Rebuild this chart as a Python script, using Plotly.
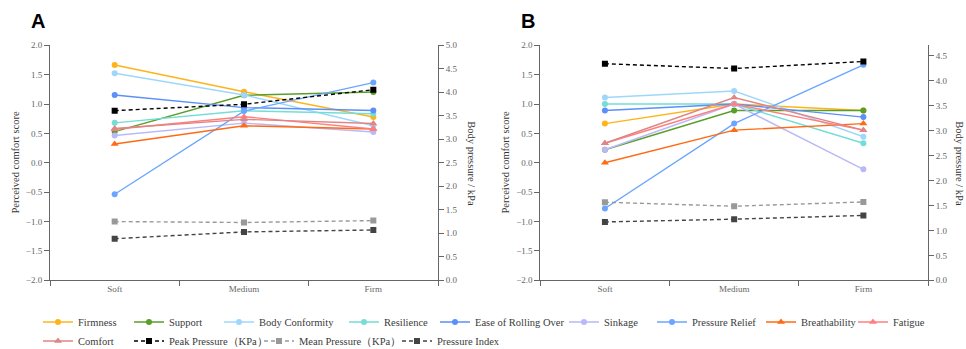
import plotly.graph_objects as go

categories = ["Soft", "Medium", "Firm"]

series_names = ["Firmness", "Support", "Body Conformity", "Resilience",
                "Ease of Rolling Over", "Sinkage", "Pressure Relief",
                "Breathability", "Fatigue", "Comfort"]

# Panel A – perceived comfort scores
a_firmness = [1.665, 1.21, 0.78]
a_support = [0.53, 1.15, 1.205]
a_body_conformity = [1.525, 1.155, 0.63]
a_resilience = [0.68, 0.885, 0.835]
a_ease_rolling = [1.155, 0.94, 0.89]
a_sinkage = [0.465, 0.675, 0.525]
a_pressure_relief = [-0.535, 0.88, 1.365]
a_breathability = [0.32, 0.63, 0.575]
a_fatigue = [0.57, 0.785, 0.575]
a_comfort = [0.585, 0.74, 0.67]
# Panel A – body pressure (kPa)
a_peak_pressure = [3.61, 3.745, 4.055]
a_mean_pressure = [1.25, 1.23, 1.27]
a_pressure_index = [0.885, 1.03, 1.07]

# Panel B – perceived comfort scores
b_firmness = [0.667, 1.0, 0.889]
b_support = [0.222, 0.889, 0.889]
b_body_conformity = [1.111, 1.222, 0.444]
b_resilience = [1.0, 1.0, 0.333]
b_ease_rolling = [0.889, 1.0, 0.778]
b_sinkage = [0.222, 1.0, -0.111]
b_pressure_relief = [-0.778, 0.667, 1.667]
b_breathability = [0.0, 0.556, 0.667]
b_fatigue = [0.333, 1.0, 0.556]
b_comfort = [0.333, 1.111, 0.556]
# Panel B – body pressure (kPa)
b_peak_pressure = [4.34, 4.245, 4.385]
b_mean_pressure = [1.565, 1.485, 1.57]
b_pressure_index = [1.17, 1.225, 1.30]

pressure_names = ["Peak Pressure（KPa）", "Mean Pressure（KPa）", "Pressure Index"]

colors = ["#FFB31A", "#5A9E2A", "#9FD7FB", "#74DDD6", "#5B8FF9",
          "#B9B9F7", "#6AA6FF", "#FF6A13", "#FF7F7F", "#E08585"]
symbols = ["circle"] * 7 + ["triangle-up"] * 3
pcolors = ["#000000", "#999999", "#444444"]

a_scores = [a_firmness, a_support, a_body_conformity, a_resilience, a_ease_rolling,
            a_sinkage, a_pressure_relief, a_breathability, a_fatigue, a_comfort]
b_scores = [b_firmness, b_support, b_body_conformity, b_resilience, b_ease_rolling,
            b_sinkage, b_pressure_relief, b_breathability, b_fatigue, b_comfort]
a_press = [a_peak_pressure, a_mean_pressure, a_pressure_index]
b_press = [b_peak_pressure, b_mean_pressure, b_pressure_index]

W, H = 966, 349
SERIF = "Liberation Serif, DejaVu Serif, serif"

fig = go.Figure()

def legend_id(k):
    return "legend" if k == 0 else f"legend{k + 1}"

for panel, (scores, press, xa, ya, ya2) in enumerate([
        (a_scores, a_press, "x", "y", "y2"),
        (b_scores, b_press, "x2", "y3", "y4")]):
    for i, name in enumerate(series_names):
        fig.add_trace(go.Scatter(
            x=categories, y=scores[i], name=name, mode="lines+markers",
            line=dict(color=colors[i], width=1.4),
            marker=dict(symbol=symbols[i], size=6 if symbols[i] == "circle" else 7,
                        color=colors[i]),
            xaxis=xa, yaxis=ya, showlegend=(panel == 0), legend=legend_id(i)))
    for j, name in enumerate(pressure_names):
        fig.add_trace(go.Scatter(
            x=categories, y=press[j], name=name, mode="lines+markers",
            line=dict(color=pcolors[j], width=1.4, dash="4px,3px"),
            marker=dict(symbol="square", size=6, color=pcolors[j]),
            xaxis=xa, yaxis=ya2, showlegend=(panel == 0), legend=legend_id(10 + j)))

def px_x(v):
    return v / W

def px_y(v):
    return (H - v) / H

ydom = [px_y(280.3), px_y(45.3)]
axis_common = dict(showline=True, linecolor="#666666", linewidth=1, ticks="outside",
                   ticklen=5, tickcolor="#666666", showgrid=False, zeroline=False,
                   automargin=False,
                   tickfont=dict(family=SERIF, size=9, color="#666666"))

layout = dict(
    width=W, height=H, margin=dict(l=0, r=0, t=0, b=0, autoexpand=False),
    paper_bgcolor="white", plot_bgcolor="white",
    font=dict(family=SERIF, color="#333333"),
    xaxis=dict(domain=[px_x(50), px_x(438)], type="category", range=[-0.5, 2.5],
               tickson="boundaries", anchor="y", **axis_common),
    xaxis2=dict(domain=[px_x(540.3), px_x(928)], type="category", range=[-0.5, 2.5],
                tickson="boundaries", anchor="y3", **axis_common),
    yaxis=dict(domain=ydom, range=[-2, 2], dtick=0.5, tickformat=".1f", anchor="x",
               **axis_common),
    yaxis2=dict(overlaying="y", side="right", range=[0, 5], dtick=0.5, tickformat=".1f",
                anchor="x", **axis_common),
    yaxis3=dict(domain=ydom, range=[-2, 2], dtick=0.5, tickformat=".1f", anchor="x2",
                **axis_common),
    yaxis4=dict(overlaying="y3", side="right", range=[0, 4.71], dtick=0.5,
                tickformat=".1f", anchor="x2", **axis_common),
)

# legend entries (text start x in px, row centre y in px)
legend_pos = [(77, 322), (168, 322), (258, 322), (383, 322), (474, 322),
              (603, 322), (691, 322), (800, 322), (892, 322),
              (77, 341), (168, 341), (298, 341), (436, 341)]
for k, (tx, ty) in enumerate(legend_pos):
    layout[legend_id(k)] = dict(
        x=px_x(tx - 39), y=px_y(ty), xanchor="left", yanchor="middle",
        bgcolor="rgba(0,0,0,0)", borderwidth=0,
        font=dict(family=SERIF, size=10.5, color="#3a3a3a"))

annotations = []
for lx, label in [(38, "A"), (528, "B")]:
    annotations.append(dict(x=px_x(lx), y=px_y(21), xref="paper", yref="paper",
                            text=label, showarrow=False, xanchor="center", yanchor="middle",
                            font=dict(family="Liberation Sans, Arial, sans-serif", size=20,
                                      color="#000000", weight="bold")))
for lx in [15.7, 505.7]:
    annotations.append(dict(x=px_x(lx), y=px_y(162.8), xref="paper", yref="paper",
                            text="Perceived comfort score", textangle=-90, showarrow=False,
                            xanchor="center", yanchor="middle",
                            font=dict(family=SERIF, size=10.5, color="#333333")))
for rx in [472, 960]:
    annotations.append(dict(x=px_x(rx), y=px_y(163.3), xref="paper", yref="paper",
                            text="Body pressure / kPa", textangle=90, showarrow=False,
                            xanchor="center", yanchor="middle",
                            font=dict(family=SERIF, size=10.5, color="#333333")))
layout["annotations"] = annotations

fig.update_layout(**layout)
fig.write_html("out.html", config={"displayModeBar": False},
               post_script="document.body.style.margin='0';document.body.style.overflow='hidden';")
